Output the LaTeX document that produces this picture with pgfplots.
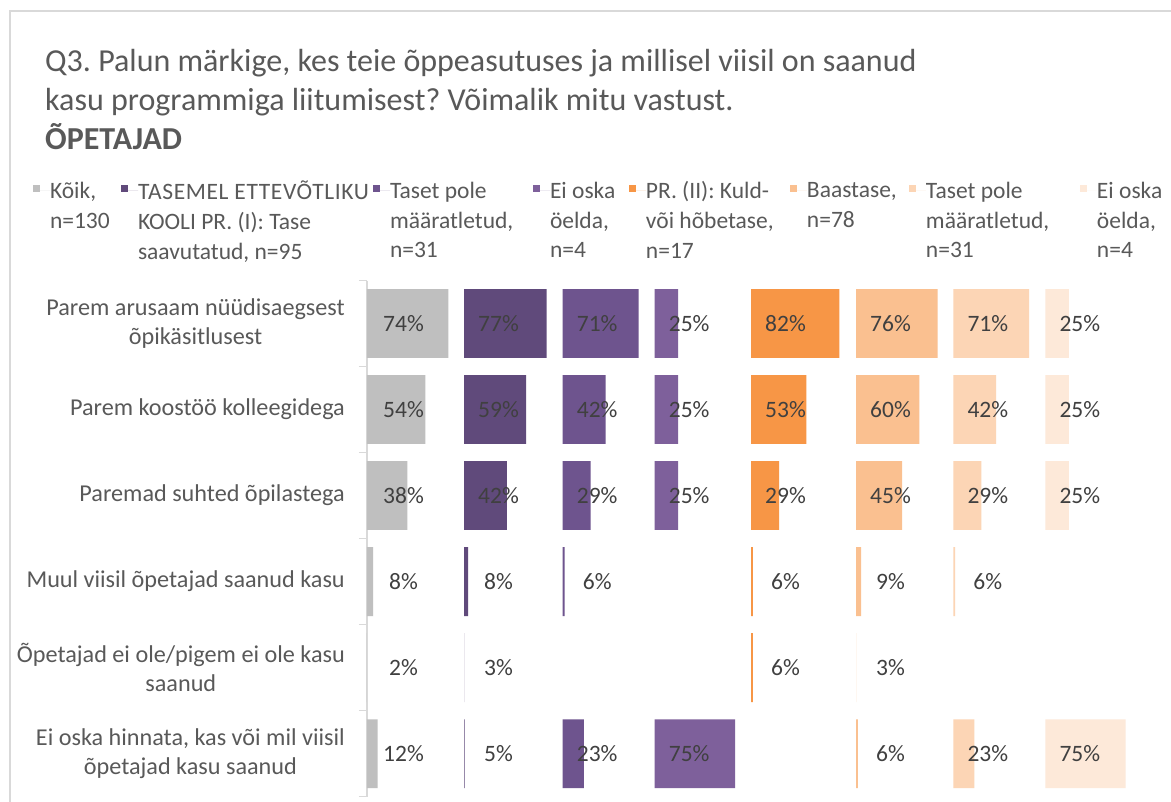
\documentclass[border=0pt]{standalone}
\usepackage{fontspec}
\setmainfont{Carlito}
\usepackage{pgfplots}
\usepackage{pgfplotstable}
\pgfplotsset{compat=1.18}
\definecolor{c1}{HTML}{BFBFBF}
\definecolor{c2}{HTML}{604A7B}
\definecolor{c3}{HTML}{6E548E}
\definecolor{c4}{HTML}{7E609B}
\definecolor{c5}{HTML}{F79646}
\definecolor{c6}{HTML}{FAC090}
\definecolor{c7}{HTML}{FCD5B5}
\definecolor{c8}{HTML}{FDE9D9}
\definecolor{txtgray}{HTML}{595959}
\definecolor{lblgray}{HTML}{404040}
\definecolor{lgray}{HTML}{D9D9D9}

\pgfplotstableread{
cat p1 p2 p3 p4 p5 p6 p7 p8
1 74 77 71 25 82 76 71 25
2 54 59 42 25 53 60 42 25
3 38 42 29 25 29 45 29 25
4 8 8 6 nan 6 9 6 nan
5 2 3 nan nan 6 3 nan nan
6 12 5 23 75 nan 6 23 75
}\datatable

\newcommand{\lblfont}{\fontsize{23.5}{29}\selectfont}
\newcommand{\catfont}{\fontsize{24.2}{29}\selectfont}

\pgfplotsset{
  panel/.style={
    anchor=south west, scale only axis, width=100pt, height=516.2pt,
    ymin=0.5, ymax=6.5, y dir=reverse, clip=true,
  },
}

\newcommand{\barsandlabels}[2]{%
  \addplot[xbar, bar width=68.8pt, fill=#2, draw=none] table[x=#1, y=cat] {\datatable};
  \addplot[draw=none, mark=none, point meta=explicit symbolic,
    nodes near coords={\pgfplotspointmeta\%},
    every node near coord/.append style={anchor=center, font=\lblfont, text=lblgray, inner sep=0pt}]
    table[x expr=\thisrow{#1}*0+34.7, y=cat, meta=#1] {\datatable};
}

\begin{document}
\frenchspacing
\begin{tikzpicture}
\useasboundingbox (0pt,0pt) rectangle (1171pt,802pt);
\fill[white] (0pt,0pt) rectangle (1171pt,802pt);
\draw[lgray, line width=1.2pt] (10pt,0pt) -- (10pt,791pt) -- (1171pt,791pt);

% title
\node[anchor=base west, inner sep=0pt, text=txtgray, font=\fontsize{32}{38}\selectfont] at (45pt,730.5pt) {Q3. Palun märkige, kes teie õppeasutuses ja millisel viisil on saanud};
\node[anchor=base west, inner sep=0pt, text=txtgray, font=\fontsize{32}{38}\selectfont] at (45pt,691pt) {kasu programmiga liitumisest? Võimalik mitu vastust.};
\node[anchor=base west, inner sep=0pt, text=txtgray, font=\fontsize{32}{38}\selectfont\bfseries] at (45pt,652pt) {ÕPETAJAD};

% panel 1 with category axis
\begin{axis}[panel, at={(367pt,5.3pt)}, xmin=2.64, xmax=90.44,
  axis x line=none, axis y line*=left,
  y axis line style={draw=lgray, line width=1.5pt},
  ytick={1,2,3,4,5,6},
  yticklabels={{Parem arusaam nüüdisaegsest\\õpikäsitlusest},{Parem koostöö kolleegidega},{Paremad suhted õpilastega},{Muul viisil õpetajad saanud kasu},{Õpetajad ei ole/pigem ei ole kasu\\saanud},{Ei oska hinnata, kas või mil viisil\\õpetajad kasu saanud}},
  yticklabel style={align=center, font=\catfont, text=txtgray, inner sep=0pt, xshift=-22pt},
  major tick length=0pt,
  extra y ticks={0.5,1.5,2.5,3.5,4.5,5.5,6.5},
  extra y tick labels={},
  extra y tick style={major tick length=8pt, tick align=outside, tick style={draw=lgray, line width=1.5pt}},
]
\barsandlabels{p1}{c1}
\end{axis}

\begin{axis}[panel, hide axis, at={(464pt,5.3pt)}, xmin=4.4, xmax=92.2]
\barsandlabels{p2}{c2}
\end{axis}
\begin{axis}[panel, hide axis, at={(562.7pt,5.3pt)}, xmin=4.4, xmax=92.2]
\barsandlabels{p3}{c3}
\end{axis}
\begin{axis}[panel, hide axis, at={(654.7pt,5.3pt)}, xmin=4.4, xmax=92.2]
\barsandlabels{p4}{c4}
\end{axis}
\begin{axis}[panel, hide axis, at={(751pt,5.3pt)}, xmin=4.4, xmax=92.2]
\barsandlabels{p5}{c5}
\end{axis}
\begin{axis}[panel, hide axis, at={(856pt,5.3pt)}, xmin=4.4, xmax=92.2]
\barsandlabels{p6}{c6}
\end{axis}
\begin{axis}[panel, hide axis, at={(953.3pt,5.3pt)}, xmin=4.4, xmax=92.2]
\barsandlabels{p7}{c7}
\end{axis}
\begin{axis}[panel, hide axis, at={(1045.3pt,5.3pt)}, xmin=4.4, xmax=92.2]
\barsandlabels{p8}{c8}
\end{axis}

% legend axis
\begin{axis}[at={(0pt,0pt)}, anchor=south west, scale only axis, width=1171pt, height=802pt,
  hide axis, xmin=0, xmax=1, ymin=0, ymax=1,
  legend columns=8, legend cell align=left,
  legend style={at={(0.028181,0.774938)}, anchor=north west, draw=none, fill=none,
    inner sep=0pt, outer sep=0pt, column sep=0pt, row sep=0pt,
    font=\fontsize{23.5}{30}\selectfont, text=txtgray,
    nodes={inner sep=0pt, outer sep=0pt}},
  legend image code/.code={\fill[#1] (0pt,-1.5pt) rectangle (7pt,5.5pt); \path (0pt,0pt) -- (17pt,0pt);},
]
\addlegendimage{fill=c1, draw=none}
\addlegendentry{\parbox[t]{71pt}{\raggedright Kõik,\\n=130}}
\addlegendimage{fill=c2, draw=none}
\addlegendentry{\parbox[t]{235pt}{\raggedright \mbox{\addfontfeature{LetterSpace=2.6}TASEMEL ETTEVÕTLIKU}\\KOOLI PR. (I): Tase\\saavutatud, n=95}}
\addlegendimage{fill=c3, draw=none}
\addlegendentry{\parbox[t]{143pt}{\raggedright Taset pole\\määratletud,\\n=31}}
\addlegendimage{fill=c4, draw=none}
\addlegendentry{\parbox[t]{79pt}{\raggedright Ei oska\\öelda,\\n=4}}
\addlegendimage{fill=c5, draw=none}
\addlegendentry{\parbox[t]{144pt}{\raggedright PR. (II): Kuld-\\või hõbetase,\\n=17}}
\addlegendimage{fill=c6, draw=none}
\addlegendentry{\parbox[t]{102pt}{\raggedright Baastase,\\n=78}}
\addlegendimage{fill=c7, draw=none}
\addlegendentry{\parbox[t]{154pt}{\raggedright Taset pole\\määratletud,\\n=31}}
\addlegendimage{fill=c8, draw=none}
\addlegendentry{\parbox[t]{70pt}{\raggedright Ei oska\\öelda,\\n=4}}
\end{axis}
\end{tikzpicture}
\end{document}
